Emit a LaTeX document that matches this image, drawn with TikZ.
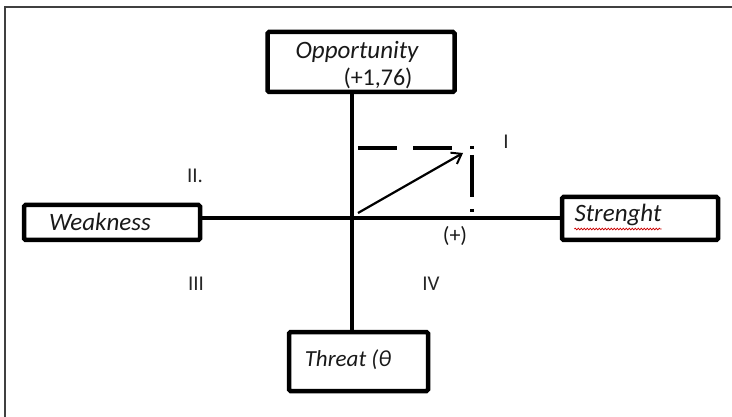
\documentclass[tikz,border=0pt]{standalone}
\usepackage{fontspec}
\setmainfont{Carlito}
\usetikzlibrary{arrows.meta,decorations.pathmorphing}
\tikzset{
  boxnode/.style={draw=black, line width=4.5pt, rounded corners=1.5pt, inner sep=0pt},
  boxtext/.style={font=\fontsize{25}{27}\selectfont\itshape, text=black!90, inner sep=0pt},
  numtext/.style={font=\fontsize{24}{26}\selectfont, text=black!90, inner sep=0pt},
  quadlabel/.style={font=\fontsize{21}{23}\selectfont, text=black!85, inner sep=0pt},
  axisline/.style={draw=black, line width=3.2pt},
  dashline/.style={draw=black, line width=4pt},
}
\begin{document}
\begin{tikzpicture}[x=1pt,y=-1pt]
\useasboundingbox (0,0) rectangle (732,417);
\fill[white] (0,0) rectangle (732,417);
% frame
\draw[black!75, line width=1.6pt] (5,417) -- (5,7) -- (732,7);

% boxes
\node[boxnode, minimum width=187, minimum height=60] (opp) at (361,62) {};
\node[boxnode, minimum width=176, minimum height=35] (weak) at (112,222.5) {};
\node[boxnode, minimum width=156, minimum height=43] (str) at (640,218.5) {};
\node[boxnode, minimum width=139, minimum height=59] (thr) at (358.5,361.5) {};

% box texts
\node[boxtext] (opptext) at (357,52) {Opportunity};
\node[numtext] (oppval) at (378,78) {(+1,76)};
\node[boxtext] (weaktext) at (100,222) {Weakness};
\node[boxtext] (strtext) at (618,215) {Strenght};
\node[boxtext, font=\fontsize{23}{25}\selectfont\itshape] (thrtext) at (348,360) {Threat (θ};
\draw[red!80!black, line width=0.7pt, decorate, decoration={snake, amplitude=0.9pt, segment length=3pt}]
  ([yshift=-3pt]strtext.south west) -- ([yshift=-3pt]strtext.south east);

% axes
\coordinate (O) at (352,218);
\draw[axisline, line width=4pt] (O |- opp.south) -- (O |- thr.north);
\draw[axisline] (weak.east |- O) -- (str.west |- O);

% dashed guides
\coordinate (dh1) at (358,148);
\coordinate (dh2) at (455,148);
\coordinate (dv1) at (472,146);
\coordinate (dv2) at (472,215);
\draw[dashline, dash pattern=on 39pt off 16pt] (dh1) -- (dh2);
\draw[dashline, line width=3.5pt, dash pattern=on 3pt off 6pt on 42pt off 12pt] (dv1) -- (dv2);

% vector
\coordinate (vs) at (358,213);
\coordinate (ve) at (463,153);
\draw[black, line width=2.2pt, -{Straight Barb[length=9pt,width=13pt,line width=2pt]}] (vs) -- (ve);

% labels
\node[quadlabel] (q1) at (506,142) {I};
\node[quadlabel] (q2) at (195,176) {II.};
\node[quadlabel] (q3) at (196,284) {III};
\node[quadlabel] (q4) at (431,284) {IV};
\node[numtext, font=\fontsize{22}{24}\selectfont] (plus) at (455,236) {(+)};
\end{tikzpicture}
\end{document}
